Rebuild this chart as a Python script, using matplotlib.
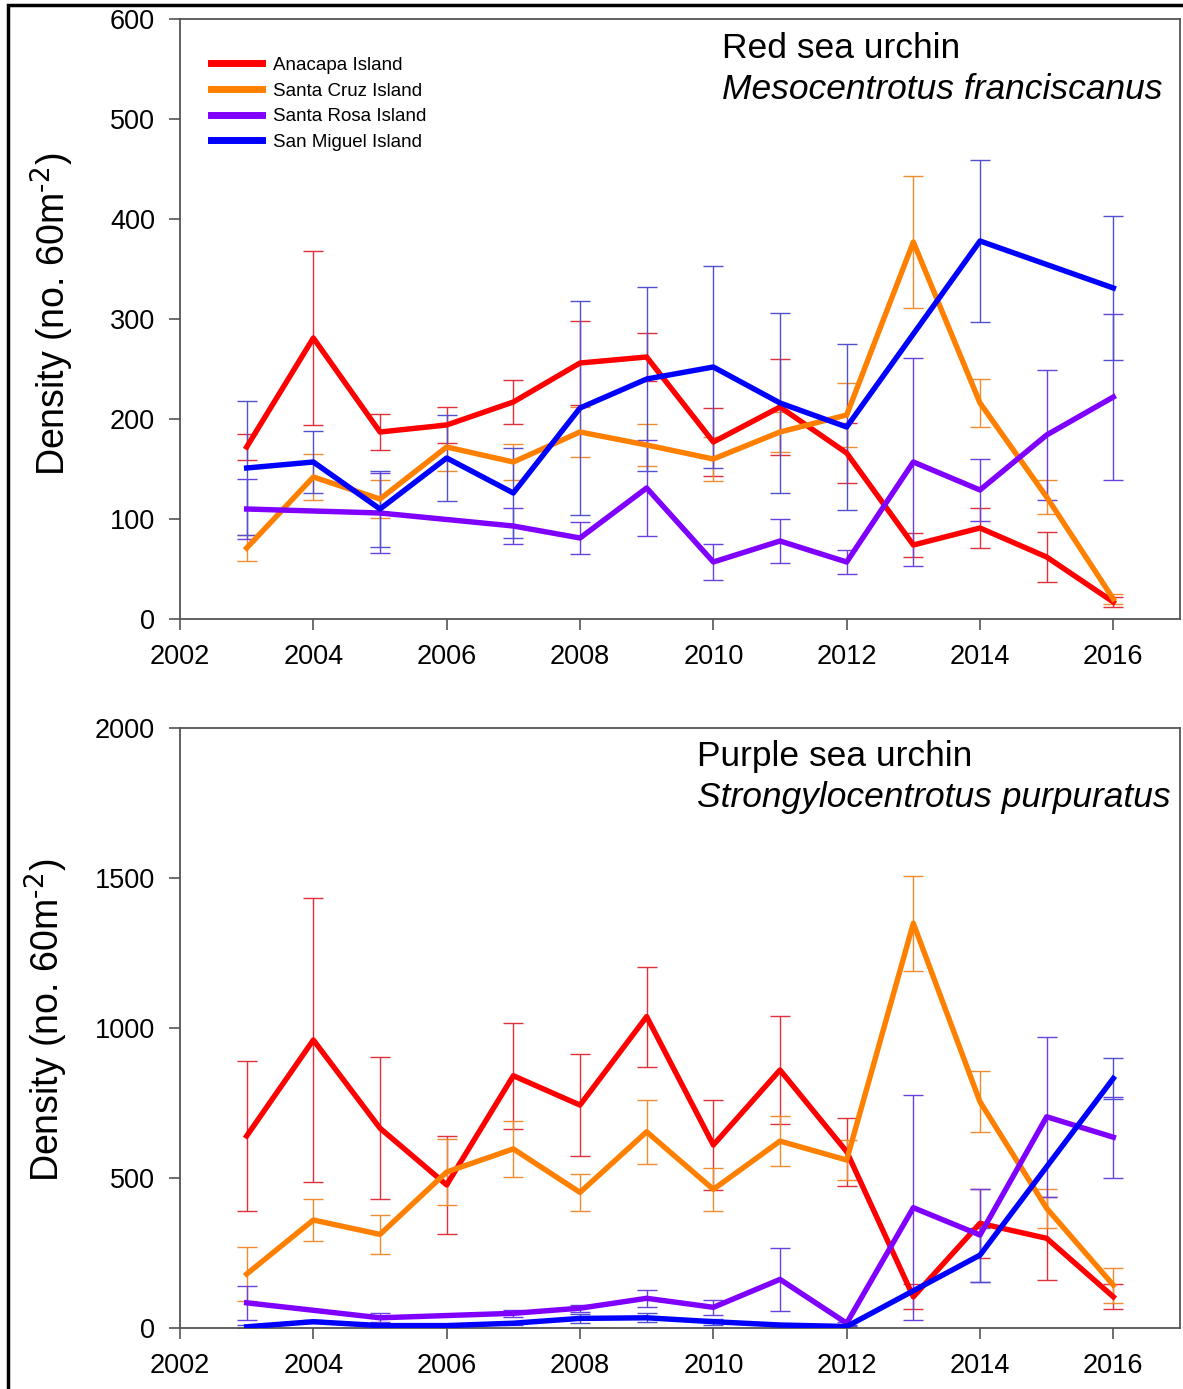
import matplotlib.pyplot as plt
from matplotlib.patches import Rectangle

plt.rcParams['font.family'] = ['Liberation Sans', 'DejaVu Sans']

# island names, in legend order
islands = ["Anacapa Island", "Santa Cruz Island", "Santa Rosa Island", "San Miguel Island"]

# survey years (Santa Rosa and San Miguel miss some years)
years = [2003, 2004, 2005, 2006, 2007, 2008, 2009, 2010, 2011, 2012, 2013, 2014, 2015, 2016]
years_rosa = [2003, 2005, 2007, 2008, 2009, 2010, 2011, 2012, 2013, 2014, 2015, 2016]
years_miguel = [2003, 2004, 2005, 2006, 2007, 2008, 2009, 2010, 2011, 2012, 2014, 2016]

# red sea urchin (top panel)
red_anacapa = [172, 281, 187, 194, 217, 256, 262, 177, 212, 166, 74, 91, 62, 17]
red_anacapa_se = [13, 87, 18, 18, 22, 42, 24, 34, 48, 30, 12, 20, 25, 5]
red_cruz = [71, 142, 120, 172, 157, 187, 174, 160, 187, 204, 377, 216, 122, 20]
red_cruz_se = [13, 23, 19, 24, 18, 25, 21, 22, 20, 32, 66, 24, 17, 5]
red_rosa = [110, 106, 93, 81, 131, 57, 78, 57, 157, 129, 184, 222]
red_rosa_se = [30, 40, 18, 16, 48, 18, 22, 12, 104, 31, 65, 83]
red_miguel = [151, 157, 110, 161, 126, 211, 240, 252, 216, 192, 378, 331]
red_miguel_se = [67, 31, 38, 43, 45, 107, 92, 101, 90, 83, 81, 72]

# purple sea urchin (bottom panel)
pur_anacapa = [640, 960, 666, 477, 841, 743, 1038, 610, 860, 588, 104, 349, 299, 104]
pur_anacapa_se = [250, 473, 236, 162, 176, 170, 167, 150, 180, 113, 42, 115, 138, 42]
pur_cruz = [180, 360, 312, 520, 597, 452, 654, 462, 623, 560, 1349, 754, 399, 143]
pur_cruz_se = [90, 71, 66, 111, 92, 62, 106, 73, 84, 67, 158, 102, 66, 58]
pur_rosa = [84, 34, 49, 66, 99, 69, 162, 16, 401, 310, 704, 636]
pur_rosa_se = [57, 15, 12, 12, 28, 26, 104, 5, 375, 155, 266, 135]
pur_miguel = [4, 21, 8, 8, 16, 32, 34, 21, 10, 5, 243, 832]
pur_miguel_se = [5, 5, 5, 5, 5, 15, 15, 10, 5, 3, 90, 68]

line_colors = ["#ff0000", "#ff8000", "#8000ff", "#0000ff"]
bar_colors = ["#e0303a", "#f08c30", "#6a40e0", "#5050d0"]

fig = plt.figure(figsize=(11.83, 13.89), dpi=100)
ax1 = fig.add_axes([180 / 1183, 1 - 619 / 1389, 1000 / 1183, 600 / 1389])
ax2 = fig.add_axes([180 / 1183, 1 - 1328 / 1389, 1000 / 1183, 600 / 1389])

panels = [
    (ax1, [(years, red_anacapa, red_anacapa_se), (years, red_cruz, red_cruz_se),
           (years_rosa, red_rosa, red_rosa_se), (years_miguel, red_miguel, red_miguel_se)]),
    (ax2, [(years, pur_anacapa, pur_anacapa_se), (years, pur_cruz, pur_cruz_se),
           (years_rosa, pur_rosa, pur_rosa_se), (years_miguel, pur_miguel, pur_miguel_se)]),
]

for ax, series in panels:
    for i, (x, y, e) in enumerate(series):
        ax.errorbar(x, y, yerr=e, fmt='none', ecolor=bar_colors[i],
                    elinewidth=1.0, capsize=7, capthick=1.0, zorder=2)
    for i, (x, y, e) in enumerate(series):
        ax.plot(x, y, color=line_colors[i], linewidth=3.9, label=islands[i], zorder=3)
    ax.set_xlim(2002, 2017)
    ax.set_xticks(range(2002, 2017, 2))
    for s in ax.spines.values():
        s.set_color("#555555")
        s.set_linewidth(1.3)
    ax.tick_params(direction='out', length=8, width=1.2, color="#555555",
                   labelsize=19.5, pad=10)
    ax.set_ylabel(r"Density (no. 60m$^{\text{-}2}$)", fontsize=27)

ax1.yaxis.set_label_coords(-0.104, 0.508)
ax2.yaxis.set_label_coords(-0.11, 0.512)

ax1.set_ylim(0, 600)
ax1.set_yticks(range(0, 601, 100))
ax2.set_ylim(0, 2000)
ax2.set_yticks(range(0, 2001, 500))

leg = ax1.legend(loc='upper left', bbox_to_anchor=(0.014, 0.965), frameon=False,
                 fontsize=13.5, handlelength=2.7, labelspacing=0.45, handletextpad=0.6)
for h in leg.get_lines():
    h.set_linewidth(5)

ax1.text(0.542, 0.95, "Red sea urchin", transform=ax1.transAxes, fontsize=25.5,
         va='center', ha='left')
ax1.text(0.542, 0.883, "Mesocentrotus franciscanus", transform=ax1.transAxes,
         fontsize=25.5, style='italic', va='center', ha='left')
ax2.text(0.517, 0.952, "Purple sea urchin", transform=ax2.transAxes, fontsize=25.5,
         va='center', ha='left')
ax2.text(0.517, 0.885, "Strongylocentrotus purpuratus", transform=ax2.transAxes,
         fontsize=25.5, style='italic', va='center', ha='left')

# black frame round the whole figure
fig.patches.append(Rectangle((8 / 1183, -0.01), 1.0, 1 - 5 / 1389 + 0.01,
                             transform=fig.transFigure, fill=False,
                             edgecolor='black', linewidth=2.5, clip_on=False))

fig.savefig("out.png", dpi=100)
